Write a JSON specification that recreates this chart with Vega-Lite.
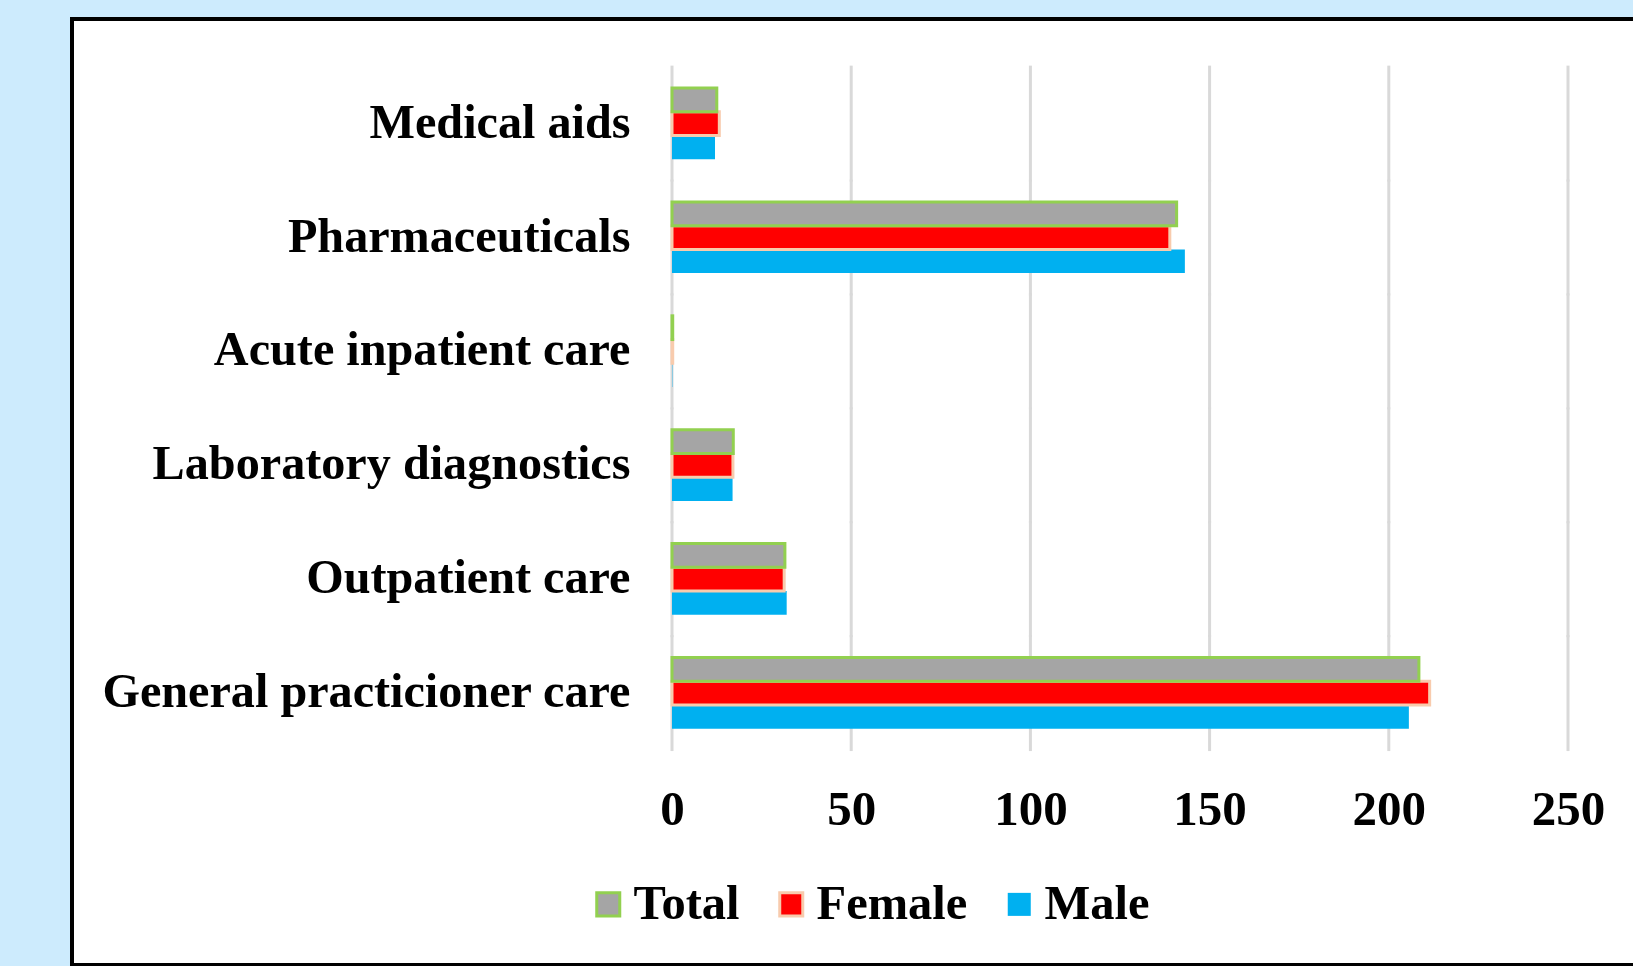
{
  "$schema": "https://vega.github.io/schema/vega-lite/v6.json",
  "autosize": {"type": "none"},
  "width": 1570,
  "height": 946,
  "padding": {"left": 72, "top": 19, "right": -9, "bottom": 1},
  "background": "#cdebfd",
  "config": {
    "view": {"fill": "white", "stroke": "black", "strokeWidth": 4},
    "font": "Liberation Serif"
  },
  "layer": [
    {
      "data": {"values": [
        {"v": 0, "cats": ["Medical aids", "Pharmaceuticals", "Acute inpatient care", "Laboratory diagnostics", "Outpatient care", "General practicioner care"]},
        {"v": 50, "cats": ["Medical aids", "Pharmaceuticals", "Acute inpatient care", "Laboratory diagnostics", "Outpatient care", "General practicioner care"]},
        {"v": 100, "cats": ["Medical aids", "Pharmaceuticals", "Acute inpatient care", "Laboratory diagnostics", "Outpatient care", "General practicioner care"]},
        {"v": 150, "cats": ["Medical aids", "Pharmaceuticals", "Acute inpatient care", "Laboratory diagnostics", "Outpatient care", "General practicioner care"]},
        {"v": 200, "cats": ["Medical aids", "Pharmaceuticals", "Acute inpatient care", "Laboratory diagnostics", "Outpatient care", "General practicioner care"]},
        {"v": 250, "cats": ["Medical aids", "Pharmaceuticals", "Acute inpatient care", "Laboratory diagnostics", "Outpatient care", "General practicioner care"]}
      ]},
      "transform": [{"flatten": ["cats"], "as": ["cat"]}],
      "mark": {"type": "tick", "thickness": 3, "size": 116, "color": "#d9d9d9", "opacity": 1},
      "encoding": {
        "x": {"field": "v", "type": "quantitative"},
        "y": {"field": "cat", "type": "nominal", "sort": ["Medical aids", "Pharmaceuticals", "Acute inpatient care", "Laboratory diagnostics", "Outpatient care", "General practicioner care"]}
      }
    },
    {
      "data": {"values": [
        {"cat": "Medical aids", "series": "Male", "value": 12.0},
        {"cat": "Medical aids", "series": "Female", "value": 13.2},
        {"cat": "Medical aids", "series": "Total", "value": 12.5},
        {"cat": "Pharmaceuticals", "series": "Male", "value": 143.1},
        {"cat": "Pharmaceuticals", "series": "Female", "value": 138.9},
        {"cat": "Pharmaceuticals", "series": "Total", "value": 140.8},
        {"cat": "Acute inpatient care", "series": "Male", "value": 0.1},
        {"cat": "Acute inpatient care", "series": "Female", "value": 0.2},
        {"cat": "Acute inpatient care", "series": "Total", "value": 0.2},
        {"cat": "Laboratory diagnostics", "series": "Male", "value": 16.9},
        {"cat": "Laboratory diagnostics", "series": "Female", "value": 17.0},
        {"cat": "Laboratory diagnostics", "series": "Total", "value": 17.1},
        {"cat": "Outpatient care", "series": "Male", "value": 32.0},
        {"cat": "Outpatient care", "series": "Female", "value": 31.3},
        {"cat": "Outpatient care", "series": "Total", "value": 31.5},
        {"cat": "General practicioner care", "series": "Male", "value": 205.6},
        {"cat": "General practicioner care", "series": "Female", "value": 211.4},
        {"cat": "General practicioner care", "series": "Total", "value": 208.4}
      ]},
      "mark": {"type": "bar", "strokeWidth": 3},
      "encoding": {
        "y": {
          "field": "cat", "type": "nominal",
          "sort": ["Medical aids", "Pharmaceuticals", "Acute inpatient care", "Laboratory diagnostics", "Outpatient care", "General practicioner care"],
          "scale": {"range": [47.7, 731], "paddingInner": 0, "paddingOuter": 0},
          "axis": {"title": null, "orient": "left", "offset": -600, "labelPadding": 42, "ticks": false, "domain": false, "grid": false,
                   "labelFontSize": 48.2, "labelFont": "Liberation Serif", "labelFontWeight": "bold", "labelColor": "black", "labelLimit": 800}
        },
        "x": {
          "field": "value", "type": "quantitative",
          "scale": {"domain": [0, 250], "range": [600, 1496], "nice": false},
          "axis": {"title": null, "orient": "bottom", "values": [0, 50, 100, 150, 200, 250], "grid": false, "domain": false, "ticks": false,
                   "offset": -215, "labelPadding": 35, "labelFontSize": 49, "labelFont": "Liberation Serif", "labelFontWeight": "bold", "labelColor": "black",
                   "labelOverlap": false, "labelFlush": false, "labelBound": false}
        },
        "yOffset": {"field": "series", "type": "nominal", "sort": ["Total", "Female", "Male"], "scale": {"paddingInner": 0, "paddingOuter": 0.9}},
        "fill": {
          "field": "series", "type": "nominal",
          "scale": {"domain": ["Total", "Female", "Male"], "range": ["#a5a5a5", "#ff0000", "#00b0f0"]},
          "legend": {"title": null, "orient": "none", "legendX": 512, "legendY": 861, "direction": "horizontal", "symbolType": "square",
                     "symbolSize": 530, "symbolStrokeWidth": 3, "symbolOpacity": 1, "labelFontSize": 48.5, "labelFont": "Liberation Serif",
                     "labelFontWeight": "bold", "labelColor": "black", "labelOffset": 1, "columnPadding": 27, "labelLimit": 400, "padding": 0}
        },
        "stroke": {
          "field": "series", "type": "nominal",
          "scale": {"domain": ["Total", "Female", "Male"], "range": ["#92d050", "#f8cbad", "transparent"]},
          "legend": {"title": null, "orient": "none", "legendX": 512, "legendY": 861, "direction": "horizontal", "symbolType": "square",
                     "symbolSize": 530, "symbolStrokeWidth": 3, "symbolOpacity": 1, "labelFontSize": 48.5, "labelFont": "Liberation Serif",
                     "labelFontWeight": "bold", "labelColor": "black", "labelOffset": 1, "columnPadding": 27, "labelLimit": 400, "padding": 0}
        }
      }
    }
  ]
}
